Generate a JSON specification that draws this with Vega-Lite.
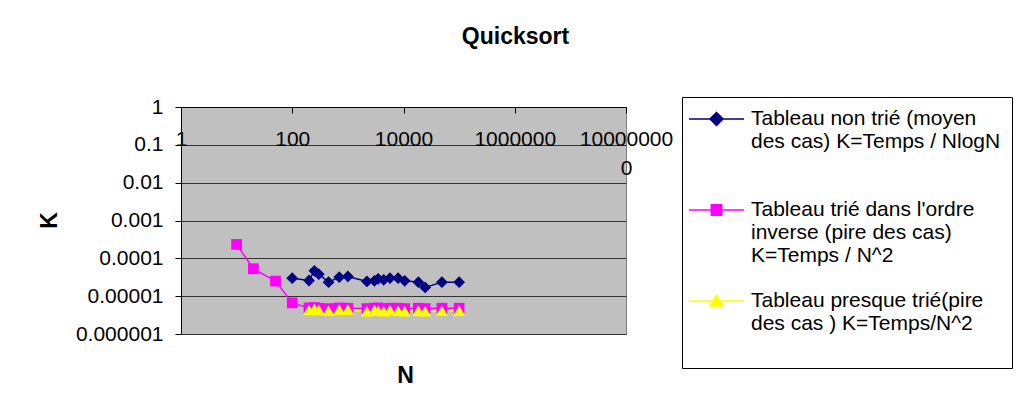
{
  "$schema": "https://vega.github.io/schema/vega-lite/v6.json",
  "autosize": {"type": "none"},
  "width": 445,
  "height": 227,
  "padding": {"left": 181, "top": 107, "right": 389, "bottom": 78},
  "background": "white",
  "config": {
    "font": "Liberation Sans",
    "view": {"fill": "#C0C0C0", "stroke": "#808080", "strokeWidth": 1}
  },
  "title": {
    "text": "Quicksort",
    "anchor": "middle",
    "dx": 112,
    "fontSize": 23,
    "font": "Liberation Sans",
    "fontWeight": "bold",
    "color": "black",
    "baseline": "alphabetic",
    "offset": 29
  },
  "datasets": {
    "pts": [
      {"s": "A", "N": 100, "K": 2.99e-5},
      {"s": "A", "N": 200, "K": 2.6e-5},
      {"s": "A", "N": 250, "K": 4.67e-5},
      {"s": "A", "N": 300, "K": 3.82e-5},
      {"s": "A", "N": 450, "K": 2.35e-5},
      {"s": "A", "N": 700, "K": 3.18e-5},
      {"s": "A", "N": 1000, "K": 3.32e-5},
      {"s": "A", "N": 2200, "K": 2.45e-5},
      {"s": "A", "N": 3000, "K": 2.54e-5},
      {"s": "A", "N": 3500, "K": 2.87e-5},
      {"s": "A", "N": 4400, "K": 2.7e-5},
      {"s": "A", "N": 5700, "K": 2.99e-5},
      {"s": "A", "N": 8000, "K": 2.99e-5},
      {"s": "A", "N": 10500, "K": 2.54e-5},
      {"s": "A", "N": 18500, "K": 2.35e-5},
      {"s": "A", "N": 24500, "K": 1.7e-5},
      {"s": "A", "N": 49000, "K": 2.35e-5},
      {"s": "A", "N": 100000, "K": 2.35e-5},
      {"s": "B", "N": 10, "K": 2.33e-4},
      {"s": "B", "N": 20, "K": 5.3e-5},
      {"s": "B", "N": 50, "K": 2.5e-5},
      {"s": "B", "N": 100, "K": 6.65e-6},
      {"s": "B", "N": 200, "K": 4.9e-6},
      {"s": "B", "N": 250, "K": 5.0e-6},
      {"s": "B", "N": 300, "K": 4.8e-6},
      {"s": "B", "N": 450, "K": 4.7e-6},
      {"s": "B", "N": 700, "K": 4.9e-6},
      {"s": "B", "N": 1000, "K": 4.8e-6},
      {"s": "B", "N": 2200, "K": 4.7e-6},
      {"s": "B", "N": 3000, "K": 4.8e-6},
      {"s": "B", "N": 3500, "K": 4.9e-6},
      {"s": "B", "N": 4400, "K": 4.7e-6},
      {"s": "B", "N": 5700, "K": 4.8e-6},
      {"s": "B", "N": 8000, "K": 4.8e-6},
      {"s": "B", "N": 10500, "K": 4.7e-6},
      {"s": "B", "N": 18500, "K": 4.8e-6},
      {"s": "B", "N": 24500, "K": 4.7e-6},
      {"s": "B", "N": 49000, "K": 4.8e-6},
      {"s": "B", "N": 100000, "K": 4.8e-6},
      {"s": "C", "N": 200, "K": 4.3e-6},
      {"s": "C", "N": 250, "K": 4.6e-6},
      {"s": "C", "N": 300, "K": 4.3e-6},
      {"s": "C", "N": 450, "K": 4.1e-6},
      {"s": "C", "N": 700, "K": 4.4e-6},
      {"s": "C", "N": 1000, "K": 4.4e-6},
      {"s": "C", "N": 2200, "K": 4.0e-6},
      {"s": "C", "N": 3000, "K": 4.3e-6},
      {"s": "C", "N": 3500, "K": 4.1e-6},
      {"s": "C", "N": 4400, "K": 4.0e-6},
      {"s": "C", "N": 5700, "K": 4.3e-6},
      {"s": "C", "N": 8000, "K": 4.1e-6},
      {"s": "C", "N": 10500, "K": 4.0e-6},
      {"s": "C", "N": 18500, "K": 4.1e-6},
      {"s": "C", "N": 24500, "K": 4.0e-6},
      {"s": "C", "N": 49000, "K": 4.1e-6},
      {"s": "C", "N": 100000, "K": 4.1e-6}
    ]
  },
  "data": {"name": "pts"},
  "encoding": {
    "x": {
      "field": "N", "type": "quantitative",
      "scale": {"type": "log", "domain": [1, 100000000], "nice": false},
      "axis": {
        "orient": "bottom",
        "offset": -227,
        "values": [1, 100, 10000, 1000000, 100000000],
        "labelExpr": "datum.value >= 100000000 ? ['10000000', '0'] : format(datum.value, 'd')",
        "labelFontSize": 21,
        "labelColor": "black",
        "labelPadding": 15,
        "labelLineHeight": 29,
        "labelFlush": false,
        "labelOverlap": false,
        "tickSize": 6,
        "tickColor": "black",
        "domainColor": "black",
        "grid": false,
        "title": "N",
        "titleFontSize": 23,
        "titleFontWeight": "bold",
        "titleColor": "black",
        "titleX": 224,
        "titleY": 275,
        "titleBaseline": "alphabetic",
        "titleAlign": "center"
      }
    },
    "y": {
      "field": "K", "type": "quantitative",
      "scale": {"type": "log", "domain": [0.000001, 1], "nice": false},
      "axis": {
        "values": [0.000001, 0.00001, 0.0001, 0.001, 0.01, 0.1, 1],
        "labelExpr": "format(datum.value, '~f')",
        "labelFontSize": 21,
        "labelColor": "black",
        "labelPadding": 12,
        "labelFlush": false,
        "labelOverlap": false,
        "tickSize": 6,
        "tickColor": "black",
        "domainColor": "black",
        "grid": true,
        "gridColor": "#333333",
        "gridWidth": 1,
        "title": "K",
        "titleFontSize": 23,
        "titleFontWeight": "bold",
        "titleColor": "black",
        "titleAngle": -90,
        "titleX": -125,
        "titleY": 113,
        "titleBaseline": "alphabetic",
        "titleAlign": "center"
      }
    },
    "color": {
      "field": "s", "type": "nominal",
      "scale": {"domain": ["A", "B", "C"], "range": ["#000080", "#FF00FF", "#FFFF00"]},
      "legend": {
        "orient": "none",
        "legendX": 501,
        "legendY": -10,
        "title": null,
        "labelExpr": "datum.value === 'A' ? ['Tableau non trié (moyen', 'des cas) K=Temps / NlogN', ' '] : datum.value === 'B' ? ['Tableau trié dans l\\'ordre', 'inverse (pire des cas)', 'K=Temps / N^2'] : ['Tableau presque trié(pire', 'des cas ) K=Temps/N^2', ' ']",
        "labelFont": "Liberation Sans",
        "labelFontSize": 21,
        "labelColor": "black",
        "labelLineHeight": 28,
        "labelLimit": 400,
        "labelOffset": 23.5,
        "labelBaseline": "middle",
        "symbolSize": 400,
        "symbolOffset": 12.5,
        "symbolStrokeWidth": 1.5,
        "symbolOpacity": 1,
        "gridAlign": "all",
        "rowPadding": 24,
        "padding": 11,
        "strokeColor": "black",
        "fillColor": "white",
        "encoding": {
          "symbols": {
            "shape": {"value": {"expr": "datum.value === 'A' ? 'M-2.75,0L2.75,0M0,-0.65L0.65,0L0,0.65L-0.65,0Z' : datum.value === 'B' ? 'M-2.75,0L2.75,0M-0.52,-0.52L0.52,-0.52L0.52,0.52L-0.52,0.52Z' : 'M-2.75,0L2.75,0M0,-0.55L0.65,0.5L-0.65,0.5Z'"}},
            "fill": {"value": {"expr": "scale('color', datum.value)"}},
            "stroke": {"value": {"expr": "scale('color', datum.value)"}},
            "strokeWidth": {"value": 1.5}
          }
        }
      }
    }
  },
  "layer": [
    {
      "mark": {"type": "line", "strokeWidth": 1.5},
      "encoding": {"order": {"field": "N", "type": "quantitative"}}
    },
    {
      "transform": [{"filter": "datum.s === 'A'"}],
      "mark": {"type": "point", "filled": true, "opacity": 1, "shape": "diamond", "size": 140}
    },
    {
      "transform": [{"filter": "datum.s === 'B'"}],
      "mark": {"type": "point", "filled": true, "opacity": 1, "shape": "square", "size": 115}
    },
    {
      "transform": [{"filter": "datum.s === 'C'"}],
      "mark": {"type": "point", "filled": true, "opacity": 1, "shape": "triangle-up", "size": 150}
    }
  ]
}
